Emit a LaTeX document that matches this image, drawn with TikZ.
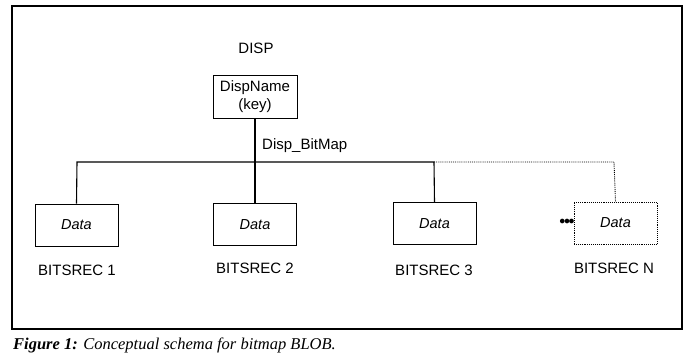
\documentclass[tikz,border=0pt]{standalone}
\usepackage{fontspec}
\setmainfont{Liberation Sans}
\newfontfamily\capfont{Liberation Serif}
\begin{document}
\begin{tikzpicture}[x=1pt,y=-1pt,
  lbl/.style={inner sep=0pt,font=\fontsize{15}{17}\selectfont},
  databox/.style={draw,line width=0.9pt,minimum width=83pt,minimum height=42pt,inner sep=0pt,font=\fontsize{14.5}{17}\selectfont\itshape},
  conn/.style={line width=1.1pt},
  dconn/.style={line width=0.9pt,densely dotted}]
\useasboundingbox (0,0) rectangle (696,360);
\draw[line width=1.4pt] (12,6) rectangle (682,329);
\node[lbl] (disp) at (256,48) {DISP};
\node[draw,line width=0.9pt,minimum width=84pt,minimum height=43pt,inner sep=0pt,align=center,font=\fontsize{15}{18}\selectfont] (dn) at (255,96.5) {DispName\\(key)};
\node[lbl,anchor=west] (bm) at (262,146) {Disp\_BitMap};
\node[databox] (d1) at (76.5,225) {Data};
\node[databox,line width=1.4pt] (d2) at (255,224.5) {Data};
\node[databox] (d3) at (434.5,223.5) {Data};
\node[databox,densely dotted] (dN) at (615.5,223) {Data};
\node[lbl] (b1) at (77,270) {BITSREC 1};
\node[lbl] (b2) at (255,268) {BITSREC 2};
\node[lbl] (b3) at (434,270) {BITSREC 3};
\node[lbl] (bN) at (614,268) {BITSREC N};
\node[inner sep=0pt,font=\fontsize{13}{13}\selectfont] (dots) at (567,222) {$\bullet\!\!\bullet\!\!\bullet$};
\coordinate (bl) at (77,162);
\coordinate (bc) at (255,162);
\coordinate (br) at (434,162);
\coordinate (bn) at (614,162);
\draw[conn] (dn.south) -- (d2.north);
\draw[conn] (d1.north) -- (bl) -- (br) -- (d3.north);
\draw[dconn] (br) -- (bn) -- (dN.north);
\node[anchor=west,inner sep=0pt,font=\capfont\fontsize{16.5}{18}\selectfont] (cap) at (13,345) {\textbf{\textit{Figure 1:}} \textit{Conceptual schema for bitmap BLOB.}};
\end{tikzpicture}
\end{document}
